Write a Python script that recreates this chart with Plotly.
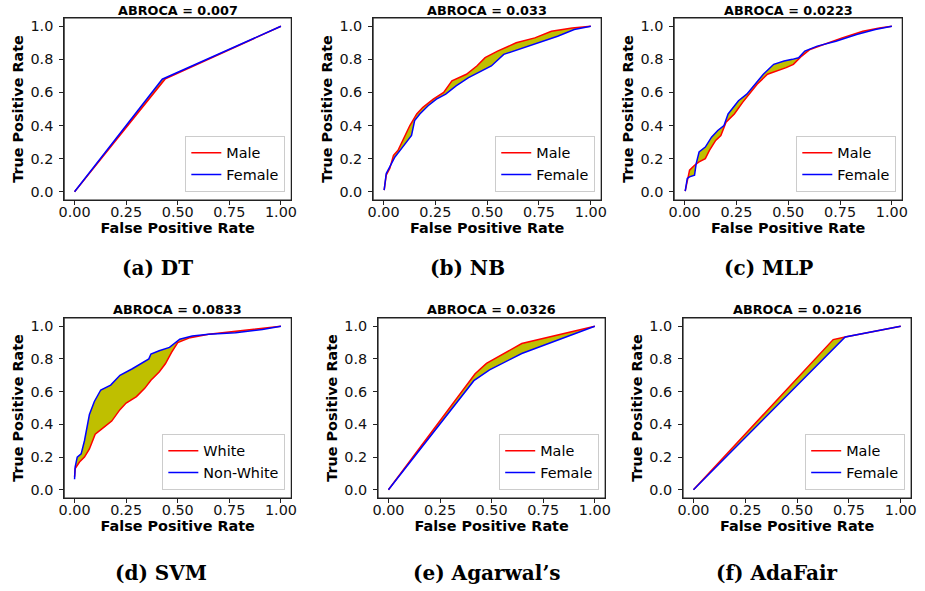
import plotly.graph_objects as go

W, H = 925, 591

# ---------------- data ----------------
titles = ["ABROCA = 0.007", "ABROCA = 0.033", "ABROCA = 0.0223",
          "ABROCA = 0.0833", "ABROCA = 0.0326", "ABROCA = 0.0216"]
captions = ["(a) DT", "(b) NB", "(c) MLP", "(d) SVM", "(e) Agarwal’s", "(f) AdaFair"]
group_names = [("Male", "Female"), ("Male", "Female"), ("Male", "Female"),
               ("White", "Non-White"), ("Male", "Female"), ("Male", "Female")]

dt_g1_fpr = [0.0, 0.44, 1.0]
dt_g1_tpr = [0.0, 0.683, 1.0]
dt_g2_fpr = [0.0, 0.425, 1.0]
dt_g2_tpr = [0.0, 0.68, 1.0]

nb_g1_fpr = [0.003, 0.013, 0.03, 0.048, 0.07, 0.10, 0.127, 0.16, 0.19, 0.24, 0.29, 0.33,
             0.40, 0.45, 0.49, 0.55, 0.64, 0.73, 0.81, 0.91, 1.0]
nb_g1_tpr = [0.01, 0.10, 0.14, 0.22, 0.25, 0.33, 0.40, 0.47, 0.51, 0.56, 0.60, 0.67,
             0.71, 0.76, 0.81, 0.85, 0.90, 0.93, 0.97, 0.99, 1.0]
nb_g2_fpr = [0.003, 0.013, 0.03, 0.055, 0.08, 0.11, 0.135, 0.15, 0.175, 0.215, 0.255,
             0.30, 0.35, 0.41, 0.46, 0.52, 0.58, 0.65, 0.75, 0.84, 0.92, 1.0]
nb_g2_tpr = [0.01, 0.11, 0.15, 0.21, 0.25, 0.30, 0.34, 0.43, 0.47, 0.52, 0.56,
             0.59, 0.64, 0.69, 0.72, 0.76, 0.83, 0.86, 0.90, 0.94, 0.98, 1.0]

mlp_g1_fpr = [0.003, 0.013, 0.024, 0.048, 0.07, 0.10, 0.12, 0.15, 0.175, 0.20, 0.24, 0.28,
              0.32, 0.35, 0.40, 0.45, 0.49, 0.525, 0.565, 0.605, 0.67, 0.76, 0.86, 0.94, 1.0]
mlp_g1_tpr = [0.004, 0.07, 0.13, 0.16, 0.18, 0.20, 0.25, 0.31, 0.34, 0.42, 0.47, 0.54,
              0.60, 0.65, 0.71, 0.73, 0.75, 0.77, 0.82, 0.86, 0.89, 0.93, 0.97, 0.99, 1.0]
mlp_g2_fpr = [0.003, 0.013, 0.024, 0.048, 0.056, 0.07, 0.10, 0.13, 0.16, 0.19, 0.21, 0.23,
              0.26, 0.30, 0.34, 0.38, 0.43, 0.48, 0.52, 0.55, 0.58, 0.64, 0.73, 0.83, 0.92, 1.0]
mlp_g2_tpr = [0.004, 0.08, 0.09, 0.10, 0.17, 0.24, 0.27, 0.33, 0.37, 0.40, 0.47, 0.50,
              0.55, 0.59, 0.65, 0.71, 0.77, 0.79, 0.80, 0.81, 0.85, 0.88, 0.91, 0.95, 0.98, 1.0]

svm_g1_fpr = [0.0, 0.003, 0.024, 0.048, 0.072, 0.10, 0.14, 0.18, 0.22, 0.25, 0.30, 0.34,
              0.37, 0.41, 0.44, 0.47, 0.50, 0.56, 0.65, 0.78, 0.91, 1.0]
svm_g1_tpr = [0.08, 0.13, 0.17, 0.20, 0.25, 0.34, 0.38, 0.42, 0.49, 0.53, 0.57, 0.62,
              0.67, 0.72, 0.77, 0.84, 0.90, 0.93, 0.95, 0.97, 0.99, 1.0]
svm_g2_fpr = [0.0, 0.003, 0.013, 0.032, 0.048, 0.06, 0.072, 0.096, 0.127, 0.175, 0.22, 0.28,
              0.32, 0.36, 0.37, 0.41, 0.46, 0.51, 0.57, 0.65, 0.78, 0.91, 1.0]
svm_g2_tpr = [0.065, 0.14, 0.20, 0.22, 0.30, 0.38, 0.46, 0.54, 0.61, 0.64, 0.70, 0.74,
              0.77, 0.80, 0.83, 0.85, 0.87, 0.92, 0.94, 0.95, 0.96, 0.98, 1.0]

agw_g1_fpr = [0.0, 0.42, 0.475, 0.646, 1.0]
agw_g1_tpr = [0.0, 0.709, 0.773, 0.894, 1.0]
agw_g2_fpr = [0.0, 0.414, 0.49, 0.646, 1.0]
agw_g2_tpr = [0.0, 0.667, 0.733, 0.833, 1.0]

ada_g1_fpr = [0.0, 0.674, 0.732, 1.0]
ada_g1_tpr = [0.0, 0.918, 0.934, 1.0]
ada_g2_fpr = [0.0, 0.732, 1.0]
ada_g2_tpr = [0.0, 0.934, 1.0]

curves = [
    (dt_g1_fpr, dt_g1_tpr, dt_g2_fpr, dt_g2_tpr),
    (nb_g1_fpr, nb_g1_tpr, nb_g2_fpr, nb_g2_tpr),
    (mlp_g1_fpr, mlp_g1_tpr, mlp_g2_fpr, mlp_g2_tpr),
    (svm_g1_fpr, svm_g1_tpr, svm_g2_fpr, svm_g2_tpr),
    (agw_g1_fpr, agw_g1_tpr, agw_g2_fpr, agw_g2_tpr),
    (ada_g1_fpr, ada_g1_tpr, ada_g2_fpr, ada_g2_tpr),
]

x_ticks = [0, 0.25, 0.5, 0.75, 1.0]
x_ticklabels = ["0.00", "0.25", "0.50", "0.75", "1.00"]
y_ticks = [0, 0.2, 0.4, 0.6, 0.8, 1.0]
y_ticklabels = ["0.0", "0.2", "0.4", "0.6", "0.8", "1.0"]

# ---------------- layout geometry (window pixels) ----------------
boxes = [(59, 289, 18, 200), (372, 603, 18, 200), (677, 908, 18, 200),
         (59, 289, 318, 498), (377, 607, 318, 498), (686, 917, 318, 498)]
title_y = [11, 11, 11, 309, 309, 309]
cap_pos = [(153, 268), (468, 268), (773, 268), (157, 573), (487, 573), (781, 573)]


def px(x):
    return x / W


def py(y):
    return 1 - y / H


RED = "#ff0000"
BLUE = "#0000ff"
FILL = "#bfbf00"
SANS = "DejaVu Sans"

fig = go.Figure()
layout = dict(width=W, height=H, margin=dict(l=0, r=0, t=0, b=0),
              paper_bgcolor="white", plot_bgcolor="white", annotations=[], shapes=[])

for i, (box, (f1, t1, f2, t2)) in enumerate(zip(boxes, curves)):
    k = "" if i == 0 else str(i + 1)
    xa, ya = "x" + k, "y" + k
    lg = "legend" + k
    n1, n2 = group_names[i]
    # fill region between curves
    fig.add_trace(go.Scatter(x=f2, y=t2, mode="lines", line=dict(width=0, color=BLUE),
                             showlegend=False, hoverinfo="skip", xaxis=xa, yaxis=ya, legend=lg))
    fig.add_trace(go.Scatter(x=f1, y=t1, mode="lines", line=dict(width=0, color=RED),
                             fill="tonexty", fillcolor=FILL,
                             showlegend=False, hoverinfo="skip", xaxis=xa, yaxis=ya, legend=lg))
    fig.add_trace(go.Scatter(x=f1, y=t1, mode="lines", name=n1,
                             line=dict(width=1.5, color=RED), xaxis=xa, yaxis=ya, legend=lg))
    fig.add_trace(go.Scatter(x=f2, y=t2, mode="lines", name=n2,
                             line=dict(width=1.5, color=BLUE), xaxis=xa, yaxis=ya, legend=lg))

    l, r, t, b = box
    common = dict(showline=True, mirror=True, linecolor="#222222", linewidth=1,
                  ticks="outside", ticklen=4, tickwidth=1, tickcolor="#222222",
                  showgrid=False, zeroline=False, range=[-0.05, 1.05],
                  tickfont=dict(family=SANS, size=14.4, color="#111111"))
    layout["xaxis" + k] = dict(common, domain=[px(l), px(r)], anchor=ya,
                               tickvals=x_ticks, ticktext=x_ticklabels, ticklabelstandoff=-5,
                               title=dict(text="False Positive Rate", standoff=1,
                                          font=dict(family=SANS, size=14.4, weight="bold", color="black")))
    layout["yaxis" + k] = dict(common, domain=[py(b), py(t)], anchor=xa,
                               tickvals=y_ticks, ticktext=y_ticklabels, ticklabelstandoff=3,
                               title=dict(text="True Positive Rate", standoff=3,
                                          font=dict(family=SANS, size=14.4, weight="bold", color="black")))
    layout[lg] = dict(x=px(r - 6), y=py(b - 8), xanchor="right", yanchor="bottom",
                      traceorder="normal",
                      bgcolor="rgba(255,255,255,0.85)", bordercolor="#cccccc", borderwidth=1,
                      font=dict(family=SANS, size=14.4, color="black"))
    layout["shapes"].append(dict(type="rect", xref=xa + " domain", yref=ya + " domain",
                                 x0=0, x1=1, y0=0, y1=1, layer="above",
                                 line=dict(color="#222222", width=1), fillcolor="rgba(0,0,0,0)"))
    layout["annotations"].append(dict(text=titles[i], x=px((l + r) / 2), y=py(title_y[i]),
                                      xref="paper", yref="paper", showarrow=False,
                                      xanchor="center", yanchor="middle",
                                      font=dict(family=SANS, size=12.8, weight="bold", color="black")))
    cx, cy = cap_pos[i]
    layout["annotations"].append(dict(text=captions[i], x=px(cx), y=py(cy),
                                      xref="paper", yref="paper", showarrow=False,
                                      xanchor="center", yanchor="middle",
                                      font=dict(family="DejaVu Serif", size=20, weight="bold", color="black")))

fig.update_layout(**layout)
# remove the browser's default 8px page margin so the figure fills the window exactly
fig.write_html("out.html", config={"displayModeBar": False},
               post_script="document.body.style.margin='0px';document.body.style.overflow='hidden';")
